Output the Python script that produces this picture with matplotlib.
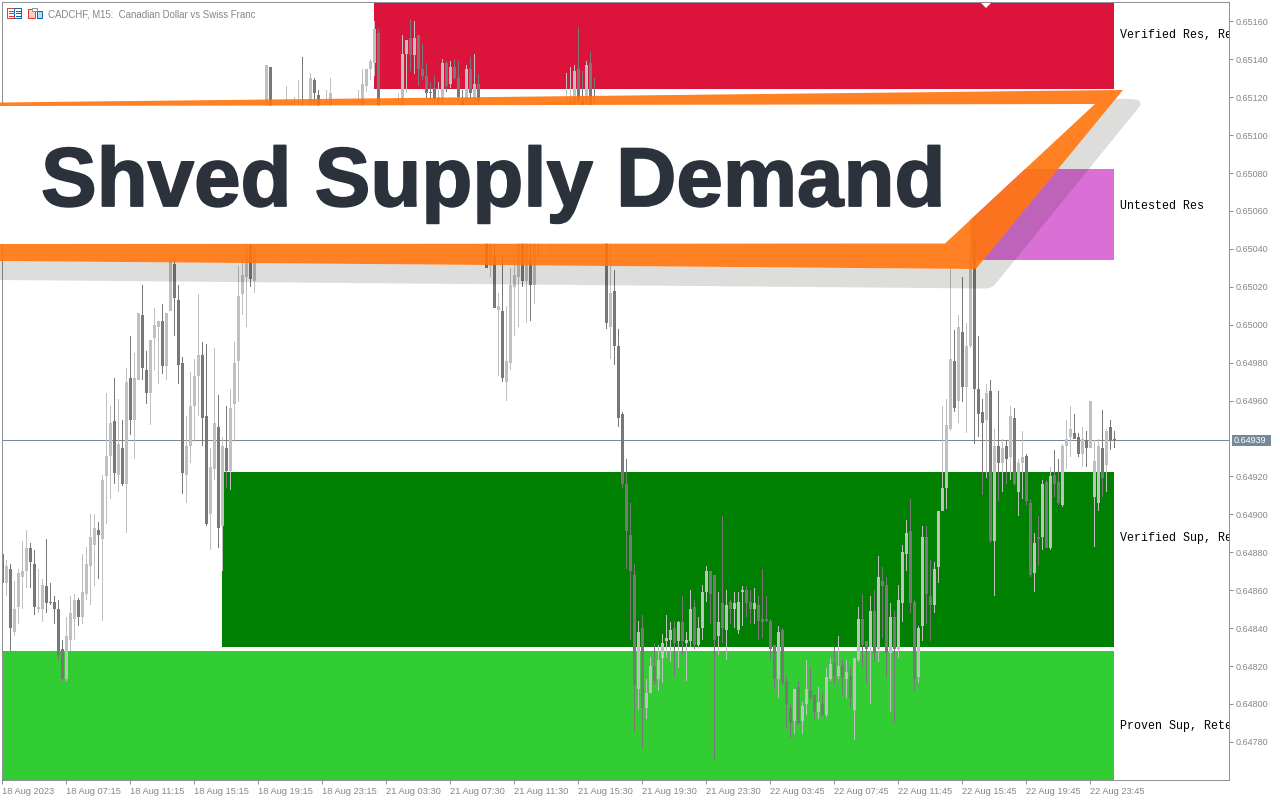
import matplotlib
matplotlib.use("Agg")
import matplotlib.pyplot as plt
import matplotlib.patheffects as pe
import numpy as np
from matplotlib.patches import PathPatch, Polygon, Rectangle
from matplotlib.path import Path

# quotes in points (1e-5), one per 15 minute bar
bar_open = [
    64879, 64864, 64871, 64838, 64851, 64867, 64870, 64882, 64874, 64850,
    64850, 64862, 64854, 64854, 64850, 64829, 64813, 64834, 64845, 64855,
    64846, 64858, 64873, 64884, 64892, 64887, 64920, 64931, 64949, 64921,
    64935, 64916, 64972, 64950, 64971, 65005, 64976, 64964, 64993, 64999,
    65002, 64978, 65007, 65032, 65013, 64980, 64921, 64936, 64957, 64973,
    64984, 64952, 64900, 64924, 64946, 64894, 64935, 64923, 64958, 64981,
    65016, 65025, 65042, 65023, 65050, 65065, 65085, 65136, 65090, 65075,
    65088, 65098, 65108, 65095, 65100, 65112, 65100, 65105, 65129, 65121,
    65105, 65095, 65105, 65105, 65092, 65078, 65090, 65098, 65100, 65104,
    65110, 65126, 65135, 65138, 65154, 65100, 65088, 65076, 65090, 65098,
    65110, 65143, 65151, 65142, 65153, 65135, 65131, 65123, 65125, 65118,
    65119, 65138, 65127, 65136, 65130, 65118, 65118, 65135, 65118, 65127,
    65100, 65060, 65031, 65036, 65008, 65007, 64970, 64980, 65020, 65025,
    65050, 65023, 65034, 65021, 65056, 65050, 65062, 65076, 65092, 65088,
    65098, 65100, 65105, 65110, 65135, 65118, 65106, 65138, 65115, 65100,
    65085, 65070, 64999, 65018, 64989, 64953, 64916, 64889, 64868, 64808,
    64840, 64798, 64806, 64820, 64813, 64824, 64833, 64834, 64840, 64833,
    64843, 64832, 64833, 64851, 64831, 64840, 64859, 64870, 64868, 64836,
    64853, 64839, 64854, 64850, 64839, 64859, 64860, 64854, 64850, 64852,
    64845, 64844, 64844, 64831, 64813, 64839, 64812, 64798, 64791, 64809,
    64791, 64800, 64807, 64805, 64796, 64800, 64794, 64813, 64822, 64815,
    64820, 64813, 64815, 64797, 64823, 64845, 64833, 64830, 64849, 64829,
    64865, 64863, 64827, 64846, 64829, 64853, 64879, 64891, 64854, 64814,
    64841, 64888, 64857, 64852, 64872, 64902, 64914, 64945, 64981, 64960,
    64996, 64967, 64989, 65045, 64966, 64954, 64950, 64965, 64886, 64936,
    64927, 64936, 64930, 64951, 64912, 64927, 64931, 64906, 64869, 64887,
    64888, 64917, 64882, 64921, 64917, 64905, 64936, 64941, 64943, 64941,
    64932, 64939, 64935, 64909, 64906, 64935, 64926, 64946, 64939,
]
bar_close = [
    64864, 64873, 64840, 64850, 64869, 64870, 64882, 64875, 64851, 64851,
    64863, 64853, 64853, 64850, 64826, 64813, 64836, 64848, 64855, 64846,
    64859, 64874, 64888, 64893, 64889, 64918, 64931, 64948, 64922, 64937,
    64916, 64970, 64950, 64972, 65006, 64977, 64964, 64992, 65000, 65002,
    64978, 65006, 65034, 65014, 64979, 64922, 64936, 64957, 64973, 64984,
    64951, 64895, 64925, 64948, 64893, 64936, 64923, 64956, 64980, 65015,
    65026, 65040, 65024, 65040, 65065, 65085, 65137, 65090, 65075, 65090,
    65100, 65108, 65095, 65110, 65112, 65098, 65112, 65130, 65122, 65105,
    65095, 65108, 65122, 65090, 65078, 65092, 65100, 65106, 65108, 65112,
    65127, 65135, 65139, 65156, 65100, 65085, 65075, 65092, 65100, 65110,
    65143, 65150, 65142, 65151, 65135, 65131, 65122, 65122, 65119, 65120,
    65138, 65126, 65136, 65130, 65120, 65116, 65135, 65122, 65127, 65118,
    65075, 65030, 65045, 65009, 65010, 64972, 64981, 65021, 65026, 65045,
    65023, 65045, 65021, 65046, 65044, 65065, 65080, 65092, 65078, 65100,
    65108, 65112, 65118, 65134, 65118, 65106, 65137, 65115, 65100, 65085,
    65070, 65001, 65017, 64989, 64951, 64916, 64891, 64870, 64810, 64838,
    64798, 64806, 64820, 64812, 64823, 64832, 64835, 64839, 64832, 64843,
    64833, 64834, 64850, 64831, 64840, 64859, 64870, 64858, 64834, 64843,
    64840, 64852, 64850, 64853, 64854, 64860, 64853, 64850, 64853, 64844,
    64843, 64844, 64829, 64813, 64838, 64811, 64800, 64790, 64808, 64790,
    64799, 64808, 64803, 64796, 64801, 64794, 64814, 64821, 64815, 64820,
    64814, 64817, 64803, 64824, 64845, 64831, 64829, 64849, 64827, 64867,
    64862, 64827, 64846, 64829, 64855, 64880, 64890, 64853, 64813, 64840,
    64888, 64858, 64852, 64871, 64902, 64914, 64947, 64982, 64956, 64999,
    64967, 64989, 65040, 64966, 64953, 64948, 64964, 64886, 64936, 64927,
    64935, 64929, 64952, 64916, 64927, 64930, 64907, 64868, 64885, 64887,
    64916, 64882, 64920, 64916, 64906, 64936, 64940, 64945, 64940, 64932,
    64940, 64935, 64960, 64928, 64936, 64919, 64944, 64939, 64939,
]
bar_high = [
    64879, 64876, 64874, 64865, 64871, 64886, 64892, 64885, 64881, 64871,
    64866, 64887, 64864, 64857, 64855, 64834, 64846, 64857, 64858, 64856,
    64879, 64883, 64900, 64900, 64896, 64921, 64964, 64957, 64972, 64961,
    64950, 64977, 64994, 64985, 65006, 65021, 64986, 64992, 65009, 65002,
    65011, 65006, 65037, 65036, 65021, 64983, 64952, 64975, 64982, 65016,
    64991, 64990, 64935, 64988, 64963, 64941, 64957, 64966, 64991, 65031,
    65035, 65045, 65050, 65045, 65070, 65090, 65137, 65136, 65095, 65095,
    65105, 65126, 65112, 65120, 65129, 65141, 65114, 65133, 65130, 65124,
    65110, 65124, 65130, 65110, 65098, 65098, 65105, 65110, 65112, 65124,
    65135, 65135, 65140, 65160, 65156, 65106, 65092, 65098, 65106, 65122,
    65153, 65150, 65161, 65160, 65153, 65148, 65138, 65128, 65131, 65128,
    65140, 65139, 65139, 65140, 65139, 65124, 65137, 65141, 65143, 65132,
    65104, 65070, 65060, 65045, 65017, 65037, 65010, 65030, 65038, 65055,
    65055, 65050, 65050, 65052, 65062, 65072, 65085, 65098, 65098, 65104,
    65112, 65133, 65136, 65137, 65157, 65134, 65139, 65144, 65130, 65106,
    65090, 65078, 65045, 65029, 64998, 64954, 64929, 64906, 64874, 64844,
    64847, 64813, 64825, 64832, 64831, 64837, 64847, 64843, 64844, 64844,
    64857, 64838, 64860, 64855, 64846, 64863, 64873, 64870, 64868, 64859,
    64899, 64860, 64855, 64859, 64859, 64862, 64862, 64860, 64861, 64857,
    64871, 64857, 64845, 64831, 64841, 64840, 64815, 64800, 64808, 64812,
    64801, 64823, 64819, 64805, 64809, 64806, 64819, 64824, 64830, 64836,
    64823, 64823, 64820, 64824, 64851, 64858, 64833, 64857, 64860, 64878,
    64872, 64867, 64853, 64849, 64863, 64884, 64897, 64908, 64855, 64841,
    64894, 64894, 64876, 64875, 64902, 64957, 64961, 65030, 64997, 65005,
    65025, 65001, 65060, 65060, 64994, 64961, 64969, 64971, 64945, 64965,
    64940, 64939, 64957, 64956, 64929, 64944, 64932, 64908, 64890, 64899,
    64918, 64918, 64925, 64934, 64929, 64937, 64950, 64957, 64953, 64943,
    64946, 64944, 64960, 64939, 64940, 64955, 64945, 64950, 64944,
]
bar_low = [
    64864, 64857, 64828, 64836, 64842, 64850, 64861, 64861, 64847, 64848,
    64843, 64848, 64852, 64842, 64823, 64812, 64812, 64828, 64834, 64841,
    64842, 64855, 64852, 64862, 64866, 64844, 64895, 64908, 64916, 64912,
    64915, 64890, 64942, 64929, 64971, 64971, 64958, 64947, 64976, 64969,
    64974, 64971, 65007, 64994, 64969, 64911, 64906, 64927, 64938, 64952,
    64936, 64894, 64881, 64918, 64882, 64870, 64914, 64913, 64938, 64959,
    65005, 64999, 65020, 65017, 65046, 65060, 65075, 65085, 65070, 65070,
    65085, 65095, 65090, 65092, 65096, 65094, 65098, 65100, 65108, 65100,
    65090, 65090, 65100, 65085, 65072, 65072, 65085, 65094, 65096, 65100,
    65106, 65123, 65129, 65131, 65095, 65080, 65070, 65072, 65086, 65094,
    65106, 65122, 65134, 65132, 65126, 65129, 65119, 65118, 65118, 65112,
    65110, 65123, 65125, 65129, 65118, 65112, 65114, 65116, 65110, 65110,
    65060, 65030, 65025, 65009, 64973, 64970, 64960, 64976, 64994, 64999,
    65020, 65001, 65002, 65011, 65035, 65046, 65058, 65034, 65072, 65084,
    65094, 65096, 65102, 65106, 65112, 65100, 65102, 65110, 65094, 65080,
    65065, 64998, 64982, 64979, 64946, 64914, 64871, 64834, 64785, 64797,
    64777, 64792, 64806, 64810, 64807, 64811, 64825, 64822, 64814, 64819,
    64826, 64812, 64830, 64829, 64829, 64834, 64854, 64842, 64771, 64826,
    64832, 64823, 64842, 64840, 64837, 64841, 64846, 64842, 64842, 64834,
    64835, 64843, 64823, 64808, 64803, 64810, 64787, 64782, 64784, 64789,
    64784, 64794, 64802, 64792, 64792, 64793, 64793, 64812, 64810, 64813,
    64805, 64803, 64798, 64781, 64822, 64819, 64811, 64800, 64822, 64822,
    64835, 64814, 64796, 64790, 64824, 64843, 64870, 64848, 64807, 64811,
    64833, 64842, 64833, 64848, 64864, 64902, 64903, 64944, 64954, 64948,
    64959, 64943, 64988, 64937, 64941, 64910, 64919, 64885, 64857, 64907,
    64912, 64916, 64918, 64915, 64899, 64908, 64905, 64867, 64859, 64873,
    64881, 64882, 64881, 64909, 64905, 64904, 64924, 64930, 64940, 64930,
    64925, 64925, 64935, 64883, 64902, 64909, 64912, 64934, 64935,
]

# supply and demand zones
zone_names = ["Verified Res, Retests", "Untested Res", "Verified Sup, Retests", "Proven Sup, Retests"]
zone_start = [92.9, 242.0, 54.9, 0.0]
zone_top = [0.65180, 0.65082, 0.649225, 0.64828]
zone_bottom = [0.651245, 0.65034, 0.64830, 0.64750]
zone_colors = ["#DC143C", "#DA70D6", "#008000", "#32CD32"]
zone_label_price = [0.65153, 0.650625, 0.648875, 0.647885]
ZONE_END = 277.9

last_price = 0.64939
price_ticks = [0.65160, 0.65140, 0.65120, 0.65100, 0.65080, 0.65060, 0.65040, 0.65020, 0.65000, 0.64980,
               0.64960, 0.64920, 0.64900, 0.64880, 0.64860, 0.64840, 0.64820, 0.64800, 0.64780]
time_labels = ["18 Aug 2023", "18 Aug 07:15", "18 Aug 11:15", "18 Aug 15:15", "18 Aug 19:15", "18 Aug 23:15",
               "21 Aug 03:30", "21 Aug 07:30", "21 Aug 11:30", "21 Aug 15:30", "21 Aug 19:30", "21 Aug 23:30",
               "22 Aug 03:45", "22 Aug 07:45", "22 Aug 11:45", "22 Aug 15:45", "22 Aug 19:45", "22 Aug 23:45"]

UP_COLOR = "#C0C0C0"
DOWN_COLOR = "#787878"
FRAME = "#8F8F96"
TEXT = "#85858C"
LINE = "#778899"

W, H = 1280, 800
fig = plt.figure(figsize=(W / 100, H / 100), dpi=100, facecolor="white")
ax = fig.add_axes([2.4 / W, (H - 780.4) / H, 1227 / W, 778 / H])
ax.set_xlim(0, 306.75)
ax.set_ylim(0.647597, 0.651700)

o = np.array(bar_open) / 1e5
c = np.array(bar_close) / 1e5
hi = np.array(bar_high) / 1e5
lo = np.array(bar_low) / 1e5
idx = np.arange(len(o))
colors = np.where(c > o, UP_COLOR, DOWN_COLOR)

for name, start, top, bottom, col, lab in zip(zone_names, zone_start, zone_top, zone_bottom, zone_colors, zone_label_price):
    ax.add_patch(Rectangle((start, bottom), ZONE_END - start, top - bottom, fc=col, ec="none", zorder=1))
    ax.text(279.4, lab, name, family="Liberation Mono", fontsize=8.4, va="center", ha="left",
            color="black", clip_on=True, zorder=3)

ax.axhline(last_price, color=LINE, lw=0.72, zorder=1.5)
# wicks are thin bars so they land on the same pixel grid as the bodies
ax.bar(idx, hi - lo, bottom=lo, width=0.25, color=colors, lw=0, zorder=2)
body = np.maximum(np.abs(c - o), 0.00001)
ax.bar(idx, body, bottom=np.minimum(o, c), width=0.75, color=colors, lw=0, zorder=2.5)

for s in ax.spines.values():
    s.set_color(FRAME)
    s.set_linewidth(0.72)
ax.yaxis.tick_right()
ax.set_yticks(price_ticks)
ax.set_yticklabels([f"{p:.5f}" for p in price_ticks], family="Liberation Sans", fontsize=6.5, color=TEXT)
ax.set_xticks(np.arange(len(time_labels)) * 16)
ax.set_xticklabels(time_labels, family="Liberation Sans", fontsize=6.65, color=TEXT, ha="left")
ax.tick_params(axis="y", length=3, width=0.72, color=FRAME, pad=1.2)
ax.tick_params(axis="x", length=3, width=0.72, color=FRAME, pad=1.5)

# banner and header drawn in pixel space over the chart
ov = fig.add_axes([0, 0, 1, 1], zorder=10)
ov.set_xlim(0, W)
ov.set_ylim(H, 0)
ov.axis("off")
ov.patch.set_alpha(0)

# last price tag
ov.add_patch(Rectangle((1232, 435), 39, 11, fc=LINE, ec="none"))
ov.text(1234, 440.5, f"{last_price:.5f}", family="Liberation Sans", fontsize=6.5, color="white", va="center", ha="left")

ov.text(48, 14.5, "CADCHF, M15:  Canadian Dollar vs Swiss Franc", family="Liberation Sans", fontsize=6.9,
        color=TEXT, va="center", ha="left")

# header icons
ov.add_patch(Rectangle((7.1, 8.1), 7, 10, fc="white", ec="#E8392B", lw=0.72))
ov.add_patch(Rectangle((14.1, 8.1), 7, 10, fc="white", ec="#1068B0", lw=0.72))
for yy in (10.6, 13.1, 15.6):
    ov.plot([9, 14], [yy, yy], color="#E8392B", lw=0.72)
    ov.plot([16, 21], [yy, yy], color="#1068B0", lw=0.72)
ov.add_patch(Rectangle((28.1, 9.1), 6.5, 9, fc="#FAD4CC", ec="#E8392B", lw=0.72))
ov.add_patch(Rectangle((37.1, 11.1), 5, 7, fc="#B5DAF5", ec="#1068B0", lw=0.72))
ov.add_patch(Rectangle((32.1, 8.1), 5, 2.5, fc="white", ec="#8F8F96", lw=0.72))

# small marker on the top edge
ov.add_patch(Polygon([(981, 3), (991, 3), (986, 8)], fc="white", ec="none"))

# shadow follows the outer edge of the band, so it does not tint the orange
shadow_verts = [(0, 261), (976, 269), (1115.6, 99), (1130, 99), (1143, 99), (1140, 106), (995, 284.5), (991, 288.5),
                (985, 288.5), (0, 280), (0, 261)]
shadow_codes = [Path.MOVETO, Path.LINETO, Path.LINETO, Path.LINETO, Path.CURVE3, Path.CURVE3, Path.LINETO,
                Path.CURVE3, Path.CURVE3, Path.LINETO, Path.CLOSEPOLY]
ov.add_patch(PathPatch(Path(shadow_verts, shadow_codes), fc=(0.08, 0.08, 0.04, 0.14), ec="none"))

inner = [(0, 106), (1095, 104), (945, 243.5), (0, 244)]
outer = [(0, 102.5), (1123, 90), (976, 269), (0, 261)]
ov.add_patch(Polygon(inner, fc="white", ec="none"))
ring = outer + [outer[0]] + inner[::-1] + [inner[-1]]
ring_codes = [Path.MOVETO] + [Path.LINETO] * 3 + [Path.CLOSEPOLY] + [Path.MOVETO] + [Path.LINETO] * 3 + [Path.CLOSEPOLY]
ov.add_patch(PathPatch(Path(ring, ring_codes), fc=(1.0, 0.45, 0.043, 0.9), ec="none"))

ov.text(41, 206, "Shved Supply Demand", family="Liberation Sans", weight="bold", fontsize=60.1, color="#2C323C",
        va="baseline", ha="left", path_effects=[pe.withStroke(linewidth=1.3, foreground="#2C323C")])

fig.savefig("out.png", dpi=100)
